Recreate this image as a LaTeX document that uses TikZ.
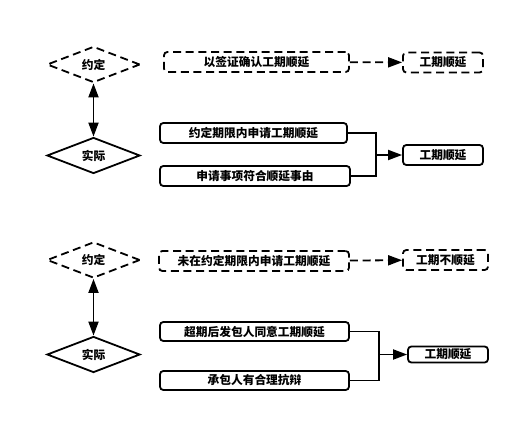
\documentclass[tikz,border=0pt]{standalone}
\usepackage{fontspec}
\newfontfamily\cjk{Noto Sans CJK SC}
\usetikzlibrary{shapes.geometric,arrows.meta}

\begin{document}
\begin{tikzpicture}[x=0.75pt,y=0.75pt,yscale=-1,xscale=1,
  every node/.style={font=\cjk\bfseries\fontsize{8.8}{10}\selectfont,inner sep=0.75pt},
  box/.style={draw,rounded corners=2.5pt,line width=1.35pt,minimum height=15pt},
  dbox/.style={box,dash pattern={on 6pt off 3.5pt}},
  dia/.style={draw,diamond,aspect=2.6,minimum width=69.75pt,minimum height=27pt,line width=1.35pt},
  ddia/.style={dia,dash pattern={on 6pt off 3.5pt}},
  link/.style={line width=1.35pt},
  tip/.style={-{Triangle[length=10.5pt,width=7.5pt]}},
  tips/.style={{Triangle[length=10.5pt,width=7.5pt]}-{Triangle[length=10.5pt,width=7.5pt]}}
]
%set diagram size 520 x 421
\useasboundingbox (0,0) rectangle (520,421);

%Shape: Diamond [top group]
\node [ddia] (yd1) at (93.5,64.5) {约定};
\node [dia] (sj1) at (93.5,155.5) {实际};
%Shape: Rectangle
\node [dbox,minimum width=138.75pt] (qz) at (256.5,62) {以签证确认工期顺延};
\node [dbox,minimum width=60pt] (gq1) at (443,62.5) {工期顺延};
\node [box,minimum width=140.25pt] (sq1) at (253.5,133) {约定期限内申请工期顺延};
\node [box,minimum width=142.5pt] (sq2) at (255,176) {申请事项符合顺延事由};
\node [box,minimum width=60pt] (gq2) at (443,155) {工期顺延};
\coordinate (j1) at (376,155);

%Shape: Diamond [bottom group]
\node [ddia] (yd2) at (93.5,260) {约定};
\node [dia] (sj2) at (93.5,354.5) {实际};
%Shape: Rectangle
\node [dbox,minimum width=142.5pt] (wsq) at (254,261) {未在约定期限内申请工期顺延};
\node [dbox,minimum width=63.75pt] (bsy) at (445.5,260) {工期不顺延};
\node [box,minimum width=141.75pt,minimum height=14.25pt] (cq) at (254.5,331.5) {超期后发包人同意工期顺延};
\node [box,minimum width=141.75pt,minimum height=14.25pt] (kb) at (254.5,380.5) {承包人有合理抗辩};
\node [box,minimum width=60pt,minimum height=12pt] (gq3) at (448,354.5) {工期顺延};
\coordinate (j2) at (379,354.5);

%Straight Lines
\draw [link,tips] (yd1) -- (sj1);
\draw [link,tip,dash pattern={on 6pt off 3.5pt}] (qz) -- (gq1);
\draw [link] (sq1.east) -| (j1);
\draw [link] (sq2.east) -| (j1);
\draw [link,tip] (j1) -- (gq2);

\draw [link,tips] (yd2) -- (sj2);
\draw [link,tip,dash pattern={on 6pt off 3.5pt}] (wsq) -- (bsy);
\draw [link] (cq.east) -| (j2);
\draw [link] (kb.east) -| (j2);
\draw [link,tip] (j2) -- (gq3);

\end{tikzpicture}
\end{document}
